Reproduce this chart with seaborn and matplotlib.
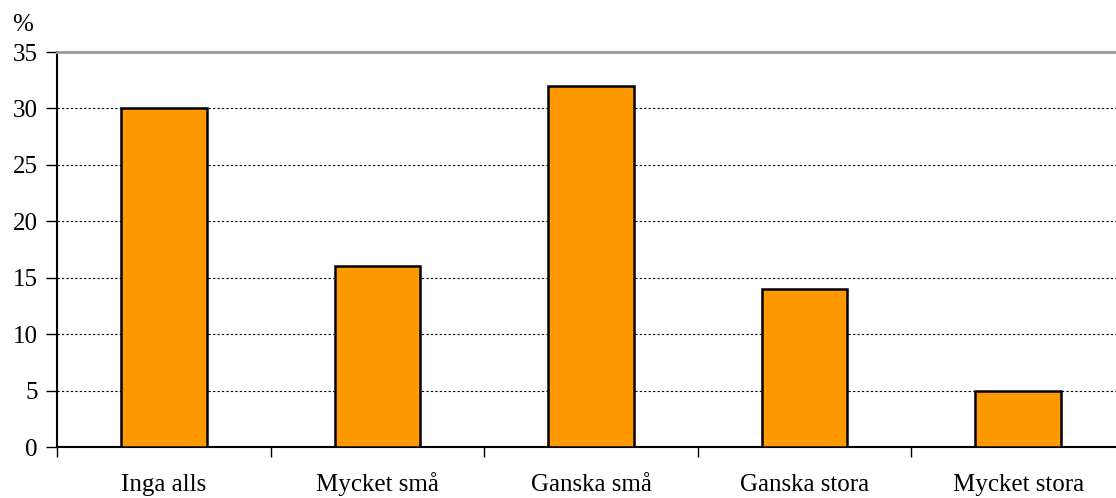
import matplotlib
matplotlib.use("Agg")
import matplotlib.pyplot as plt
import seaborn as sns
import pandas as pd
import numpy as np

# data
categories = ["Inga alls", "Mycket små", "Ganska små", "Ganska stora", "Mycket stora"]
values = [30, 16, 32, 14, 5]
yticks = [0, 5, 10, 15, 20, 25, 30, 35]

df = pd.DataFrame({"kategori": categories, "procent": values})

sns.set_theme(style="white")
plt.rcParams["font.family"] = ["Liberation Serif", "DejaVu Serif"]

fig = plt.figure(figsize=(11.16, 4.98), dpi=100)
# plotytan går en bit utanför högerkanten, som i originalet
ax = fig.add_axes([57 / 1116, 1 - 447 / 498, 1068 / 1116, (447 - 52) / 498])

sns.barplot(data=df, x="kategori", y="procent", color="#FF9900", width=0.4,
            edgecolor="black", linewidth=1.8, saturation=1, ax=ax, zorder=3)

ax.set_ylim(0, 35)
ax.set_xlim(-0.5, len(categories) - 0.5)
ax.set_yticks(yticks)
ax.set_yticklabels([str(t) for t in yticks], fontsize=18, color="black")
ax.set_xticks(range(len(categories)))
ax.set_xticklabels(categories, fontsize=18, color="black", va="baseline")
ax.set_xticks(np.arange(-0.5, len(categories), 1.0), minor=True)
ax.tick_params(axis="x", which="major", length=0, pad=32)
ax.tick_params(axis="x", which="minor", length=7, width=1, color="black", direction="out", bottom=True)
ax.tick_params(axis="y", length=8, width=1, color="black", direction="out", left=True, pad=6)

# stödlinjer
for t in yticks[1:-1]:
    ax.axhline(t, color="black", linestyle=(0, (2, 2)), linewidth=0.8, zorder=1)

ax.set_xlabel("")
ax.set_ylabel("")
for side in ["left", "bottom"]:
    ax.spines[side].set_color("black")
    ax.spines[side].set_linewidth(1.5)
ax.spines["top"].set_color("#999999")
ax.spines["top"].set_linewidth(2)
ax.spines["right"].set_visible(False)

fig.text(12 / 1116, 1 - 31 / 498, "%", fontsize=18, color="black", ha="left", va="baseline")

fig.savefig("out.png", dpi=100)
